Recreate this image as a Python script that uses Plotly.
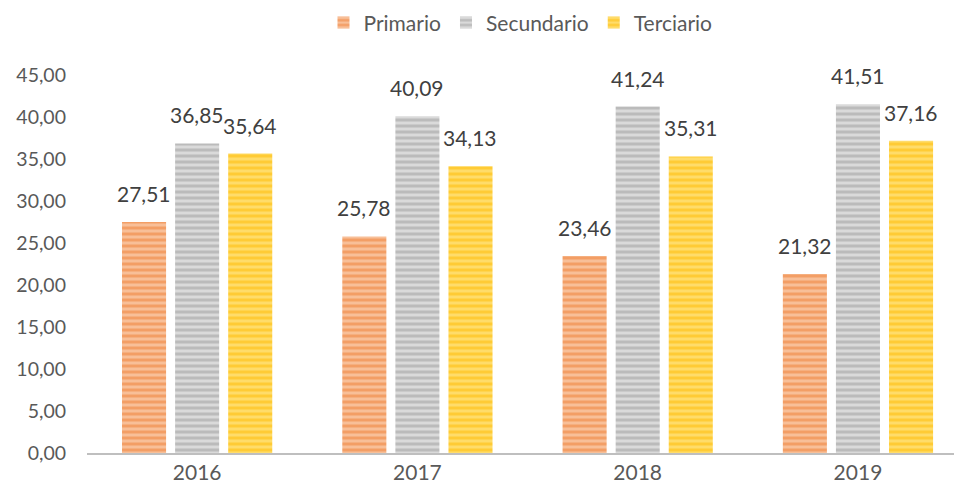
import plotly.graph_objects as go

years = ["2016", "2017", "2018", "2019"]
primario = [27.51, 25.78, 23.46, 21.32]
secundario = [36.85, 40.09, 41.24, 41.51]
terciario = [35.64, 34.13, 35.31, 37.16]
y_ticks = [0, 5, 10, 15, 20, 25, 30, 35, 40, 45]

FONT = "Lato"

def fmt(v):
    return f"{v:.2f}".replace(".", ",")

series = [
    ("Primario", primario, "#ED7D31", "#F8BF98"),
    ("Secundario", secundario, "#9B9B9B", "#DADADA"),
    ("Terciario", terciario, "#FFBA00", "#FFDC6A"),
]

fig = go.Figure()
for i, (name, vals, dark, light) in enumerate(series):
    fig.add_trace(go.Bar(
        name=name,
        x=years,
        y=vals,
        marker=dict(
            color=light,
            line=dict(width=0),
            pattern=dict(shape="-", fgcolor=dark, size=6, solidity=0.5,
                         fillmode="overlay"),
        ),
    ))
    # value labels sit above each bar, shifted to its slot in the group
    for j, v in enumerate(vals):
        fig.add_annotation(
            x=j, y=v, xref="x", yref="y", text=fmt(v), showarrow=False,
            xshift=(i - 1) * 53, yshift=14, yanchor="bottom",
            font=dict(family=FONT, size=21, color="#404040"),
        )

fig.update_layout(
    width=954,
    height=494,
    margin=dict(l=87, r=0, t=75, b=41),
    paper_bgcolor="white",
    plot_bgcolor="white",
    barmode="group",
    bargap=0.277,
    bargroupgap=0.17,
    font=dict(family=FONT, size=19, color="#595959"),
    legend=dict(
        orientation="h",
        x=0.5, xanchor="center",
        y=0.995, yanchor="top",
        yref="container",
        font=dict(family=FONT, size=21, color="#595959"),
        itemwidth=30,
        traceorder="normal",
    ),
    xaxis=dict(
        type="category",
        range=[-0.5, 3.436],
        showline=True,
        linecolor="#BFBFBF",
        linewidth=1.5,
        ticks="",
        tickfont=dict(family=FONT, size=21, color="#595959"),
    ),
    yaxis=dict(
        range=[0, 45],
        tickvals=y_ticks,
        ticktext=[fmt(v) for v in y_ticks],
        showgrid=False,
        zeroline=False,
        showline=False,
        ticks="",
        ticklabelstandoff=20,
        tickfont=dict(family=FONT, size=19.5, color="#595959"),
    ),
)

fig.write_html("out.html")
